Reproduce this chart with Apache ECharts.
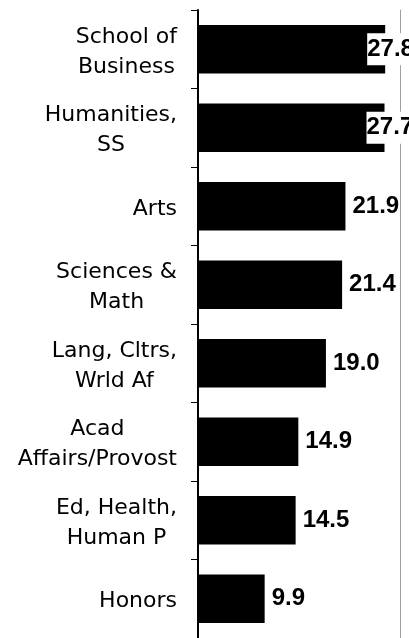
<!DOCTYPE html>
<html>
<head>
<meta charset="utf-8">
<script src="https://cdn.jsdelivr.net/npm/echarts@6/dist/echarts.min.js"></script>
<style>
  html, body { margin: 0; padding: 0; background: #fff; }
  #chart { width: 409px; height: 638px; }
</style>
</head>
<body>
<div id="chart"></div>
<script>
const categories = [
  "School of\nBusiness",
  "Humanities,\nSS",
  "Arts",
  "Sciences &\nMath",
  "Lang, Cltrs,\nWrld Af",
  "Acad\nAffairs/Provost",
  "Ed, Health,\nHuman P",
  "Honors",
];
const values = [27.8, 27.7, 21.9, 21.4, 19.0, 14.9, 14.5, 9.9];
// labels that would run past the plot edge get pulled back onto the bar
const pulledBack = [true, true, false, false, false, false, false, false];

let myChart = echarts.init(document.getElementById("chart"));

let seriesData = values.map((v, i) => {
  let item = { value: v };
  if (pulledBack[i]) {
    item.label = {
      offset: [-25, 0],
      backgroundColor: "#fff",
      padding: [4, 0],
    };
  }
  return item;
});

let option = {
  animation: false,
  grid: { left: 198, right: 9, top: 10, bottom: -3 },
  xAxis: {
    type: "value",
    min: 0,
    max: 30,
    show: false,
  },
  yAxis: [
    {
      type: "category",
      data: categories,
      inverse: true,
      axisLine: { show: true, lineStyle: { color: "#000", width: 2 } },
      axisTick: {
        show: true,
        alignWithLabel: false,
        length: 7,
        lineStyle: { color: "#000", width: 1 },
      },
      axisLabel: {
        margin: 21,
        align: "right",
        padding: [6, 0, 0, 0],
        // each line centred inside a right-aligned block
        formatter: (value) =>
          value
            .split("\n")
            .map((s) => `{c|${s}}`)
            .join("\n"),
        rich: {
          c: {
            align: "center",
            color: "#000",
            fontFamily: "DejaVu Sans",
            fontSize: 22,
            lineHeight: 30,
          },
        },
      },
    },
    {
      type: "category",
      data: categories,
      inverse: true,
      position: "right",
      axisLine: { show: true, lineStyle: { color: "#a0a0a0", width: 1 } },
      axisTick: { show: false },
      axisLabel: { show: false },
    },
  ],
  series: [
    {
      type: "bar",
      data: seriesData,
      barWidth: "62%",
      itemStyle: { color: "#000" },
      label: {
        show: true,
        position: "right",
        distance: 7,
        color: "#000",
        fontFamily: "Liberation Sans",
        fontWeight: "bold",
        fontSize: 24,
        formatter: (p) => p.value.toFixed(1),
      },
    },
  ],
};

option && myChart.setOption(option);
</script>
</body>
</html>
